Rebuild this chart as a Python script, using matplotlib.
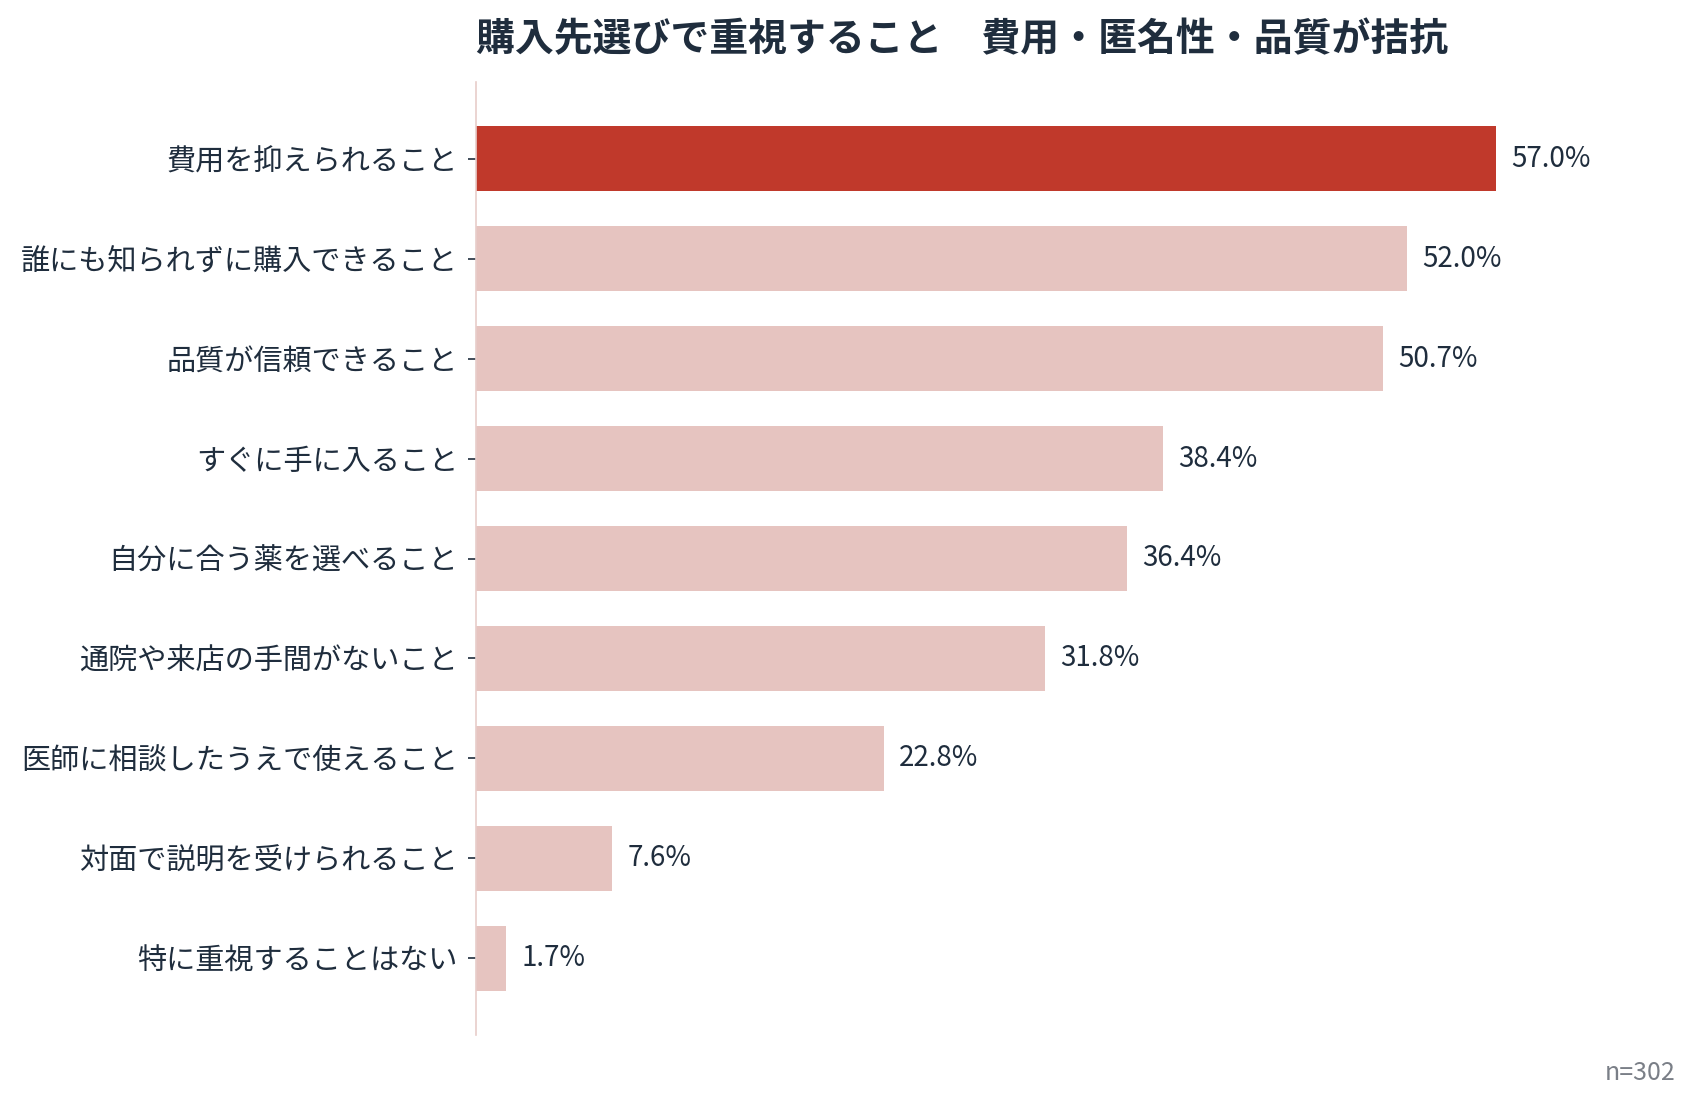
import matplotlib
matplotlib.use("Agg")
import matplotlib.pyplot as plt

plt.rcParams['font.family'] = ['Noto Sans CJK JP', 'DejaVu Sans']

# data (top to bottom)
labels = [
    "費用を抑えられること",
    "誰にも知られずに購入できること",
    "品質が信頼できること",
    "すぐに手に入ること",
    "自分に合う薬を選べること",
    "通院や来店の手間がないこと",
    "医師に相談したうえで使えること",
    "対面で説明を受けられること",
    "特に重視することはない",
]
values = [57.0, 52.0, 50.7, 38.4, 36.4, 31.8, 22.8, 7.6, 1.7]
title = "購入先選びで重視すること　費用・匿名性・品質が拮抗"
note = "n=302"

text_col = "#1f2d3d"
hi_col = "#c0392b"
lo_col = "#e6c4c0"

fig = plt.figure(figsize=(16.99, 11.06), dpi=100)
ax = fig.add_axes([476 / 1699, 1 - 1035 / 1106, 1173 / 1699, (1035 - 82) / 1106])

ypos = list(range(len(labels)))[::-1]
colors = [hi_col] + [lo_col] * (len(values) - 1)
ax.barh(ypos, values, height=0.65, color=colors)

for y, v in zip(ypos, values):
    ax.text(v + 0.85, y, f"{v:.1f}%", va="center", ha="left",
            fontsize=20, color=text_col)

ax.set_yticks(ypos)
ax.set_yticklabels(labels, fontsize=21, color=text_col)
ax.tick_params(axis="y", length=6, width=1.2, color=text_col, pad=7)
ax.set_xticks([])
ax.set_xlim(0, 57 * 1.15)
ax.set_ylim(-0.77, len(labels) - 1 + 0.77)

for s in ["top", "right", "bottom"]:
    ax.spines[s].set_visible(False)
ax.spines["left"].set_color("#e8cdca")
ax.spines["left"].set_linewidth(1.2)

ax.set_title(title, loc="left", fontsize=28, fontweight="bold",
             color=text_col, pad=22)

fig.text(1676 / 1699, 1 - 1073 / 1106, note, ha="right", va="center",
         fontsize=18, color="#7a7f87")

fig.savefig("out.png", dpi=100)
